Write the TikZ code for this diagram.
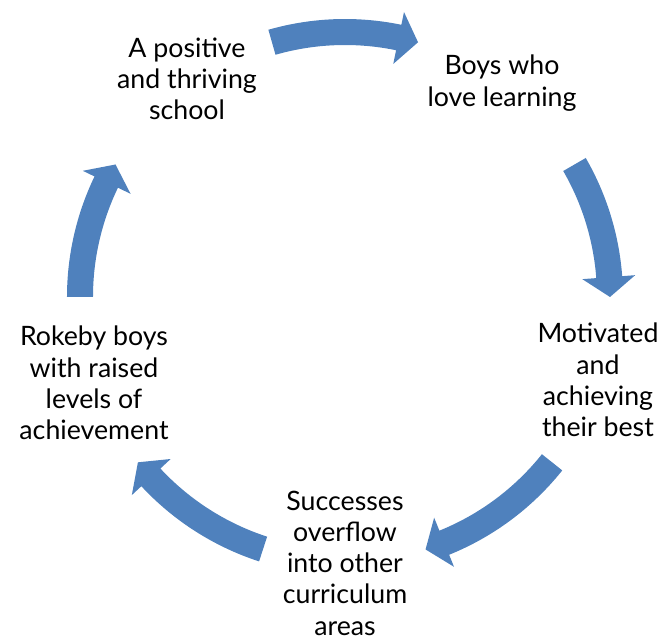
\documentclass[tikz,border=0pt]{standalone}
\usepackage{fontspec}
\setmainfont{Lato}
\usetikzlibrary{calc}
\definecolor{arrowblue}{HTML}{4F81BD}
\newcommand\CycleArrow[2]{% tail angle, tip angle
  \pgfmathsetmacro\angHead{#2+4.3} % base of the head
  \fill[cyclearrow] (#1:\Rout) arc[start angle=#1, end angle=\angHead, radius=\Rout]
    -- (\angHead:\Hout) -- (#2:\R) -- (\angHead:\Hin) -- (\angHead:\Rin)
    arc[start angle=\angHead, end angle=#1, radius=\Rin] -- cycle;
}
\tikzset{
  cyclearrow/.style={fill=arrowblue},
  cycletext/.style={align=center, inner sep=0pt, font=\fontsize{19}{22.2}\selectfont}
}

\begin{document}
\begin{tikzpicture}[x=0.025cm,y=0.025cm]

%% some definitions
\def\R{265}    % ring radius
\def\Rin{252}  % inner edge of shaft
\def\Rout{278} % outer edge of shaft
\def\Hin{238}  % inner point of head
\def\Hout{291} % outer point of head

\useasboundingbox (-345,-340) rectangle (315,297);

%% the five steps
\node[cycletext] (school)    at (-158,218) {A positive\\and thriving\\school};
\node[cycletext] (learning)  at (157,214)  {Boys who\\love learning};
\node[cycletext] (motivated) at (253,-83)  {Motivated\\and\\achieving\\their best};
\node[cycletext] (successes) at (0,-266)   {Successes\\overflow\\into other\\curriculum\\areas};
\node[cycletext] (rokeby)    at (-251,-86) {Rokeby boys\\with raised\\levels of\\achievement};

%% arrows round the ring
\CycleArrow{106}{74}
\CycleArrow{30}{0}
\CycleArrow{-38.6}{-72.3}
\CycleArrow{-108}{-141.4}
\CycleArrow{180}{150}

\end{tikzpicture}
\end{document}
